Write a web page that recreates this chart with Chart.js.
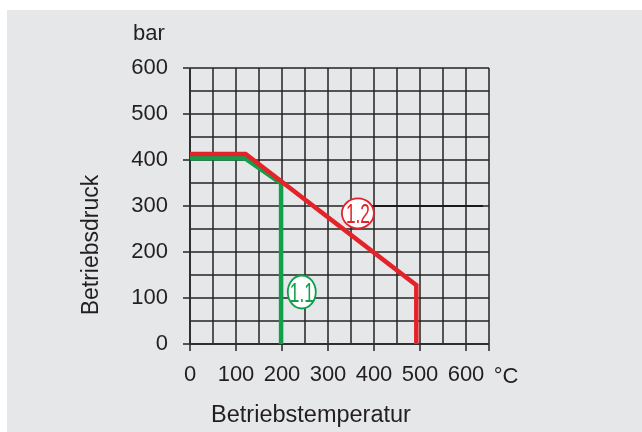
<!DOCTYPE html>
<html><head><meta charset="utf-8">
<script src="https://cdn.jsdelivr.net/npm/chart.js@4/dist/chart.umd.min.js"></script>
<style>html,body{margin:0;padding:0;background:#fff;}canvas{display:block;}</style>
</head><body>
<canvas id="c" width="642" height="432"></canvas>
<script>
// ---- data ----
const tempTicks = [0, 100, 200, 300, 400, 500, 600];
const pressureTicks = [0, 100, 200, 300, 400, 500, 600];
const curve12Temp = [0, 121, 492, 492];
const curve12Pressure = [413, 413, 128, 0];
const curve11Temp = [0, 119, 198, 198];
const curve11Pressure = [404, 404, 349, 0];
const labelNames = ['1.1', '1.2'];
const labelTemp = [243, 365];
const labelPressure = [113, 284];
const leaderTemp = [365, 637];
const leaderPressure = [300, 300];
const xUnit = '°C';
const yUnit = 'bar';
const xTitle = 'Betriebstemperatur';
const yTitle = 'Betriebsdruck';

// ---- styles ----
const RED = '#e42229', GREEN = '#109f4a';
const GRID = 'rgba(35,35,35,0.75)';
const TXT = '#231f20';
const FONT = 'Liberation Sans, Arial, Helvetica, sans-serif';
const labelColors = [GREEN, RED];
const labelRadii = [[14, 16.5], [16, 15]];

const zip = (xs, ys) => xs.map((x, i) => ({x, y: ys[i]}));

const bgPlugin = {
  id: 'bg',
  beforeDraw(chart) {
    const c = chart.ctx;
    c.save();
    c.fillStyle = '#ffffff';
    c.fillRect(0, 0, chart.width, chart.height);
    c.fillStyle = '#e6e7e9';
    c.fillRect(7, 10, chart.width - 7, chart.height - 10);
    c.restore();
  }
};

const annotPlugin = {
  id: 'annot',
  afterDatasetsDraw(chart) {
    const c = chart.ctx, xs = chart.scales.x, ys = chart.scales.y;
    labelNames.forEach((name, i) => {
      const px = xs.getPixelForValue(labelTemp[i]);
      const py = ys.getPixelForValue(labelPressure[i]);
      const [rx, ry] = labelRadii[i];
      c.save();
      c.beginPath();
      c.ellipse(px, py, rx, ry, 0, 0, Math.PI * 2);
      c.fillStyle = '#ffffff';
      c.fill();
      c.lineWidth = 1.8;
      c.strokeStyle = labelColors[i];
      c.stroke();
      c.translate(px, py);
      c.scale(0.64, 1);
      c.font = '27px ' + FONT;
      c.fillStyle = labelColors[i];
      c.textAlign = 'center';
      c.textBaseline = 'alphabetic';
      c.fillText(name, 0, 9.7);
      c.restore();
    });
  },
  afterDraw(chart) {
    const c = chart.ctx, xs = chart.scales.x, ys = chart.scales.y, a = chart.chartArea;
    c.save();
    c.fillStyle = TXT;
    c.font = '22px ' + FONT;
    c.textBaseline = 'alphabetic';
    c.textAlign = 'left';
    c.fillText(yUnit, 133, ys.getPixelForValue(600) - 28);
    c.textAlign = 'center';
    c.fillText(xUnit, xs.getPixelForValue(650) + 17, a.bottom + 39);
    c.font = '23.5px ' + FONT;
    c.fillText(xTitle, 311, a.bottom + 78);
    c.font = '23px ' + FONT;
    c.translate(98, 245);
    c.rotate(-Math.PI / 2);
    c.fillText(yTitle, 0, 0);
    c.restore();
  }
};

const tickCol = (keep) => (ctx) => (ctx.tick && keep(ctx.tick.value)) ? GRID : 'rgba(0,0,0,0)';

new Chart(document.getElementById('c'), {
  type: 'scatter',
  data: {
    datasets: [
      { label: '1.2', data: zip(curve12Temp, curve12Pressure), showLine: true, borderColor: RED,
        borderWidth: 4.5, pointRadius: 0, borderJoinStyle: 'miter', borderCapStyle: 'butt', order: 1 },
      { label: '1.1', data: zip(curve11Temp, curve11Pressure), showLine: true, borderColor: GREEN,
        borderWidth: 4.5, pointRadius: 0, borderJoinStyle: 'miter', borderCapStyle: 'butt', order: 2 },
      { label: 'leader', data: zip(leaderTemp, leaderPressure), showLine: true, borderColor: '#1a1a1a',
        borderWidth: 2, pointRadius: 0, order: 3 }
    ]
  },
  options: {
    responsive: false,
    animation: false,
    events: [],
    layout: { padding: { left: 0, top: 68, right: 153, bottom: 0 } },
    plugins: { legend: { display: false }, tooltip: { enabled: false } },
    scales: {
      x: {
        type: 'linear', min: 0, max: 650,
        afterFit: (s) => { s.height = 88; },
        ticks: {
          stepSize: 50, autoSkip: false, maxRotation: 0, minRotation: 0,
          callback: (v) => tempTicks.includes(v) ? String(v) : '',
          font: { family: FONT, size: 22 }, color: TXT, padding: 11
        },
        grid: { color: GRID, lineWidth: 2, tickLength: 7,
          tickColor: tickCol(v => v % 100 === 0 || v === 650) },
        border: { color: GRID, width: 2 }
      },
      y: {
        type: 'linear', min: 0, max: 600,
        afterFit: (s) => { s.width = 190; },
        ticks: {
          stepSize: 50, autoSkip: false,
          callback: (v) => pressureTicks.includes(v) ? String(v) : '',
          font: { family: FONT, size: 22 }, color: TXT, padding: 15
        },
        grid: { color: GRID, lineWidth: 2, tickLength: 7,
          tickColor: tickCol(v => v % 100 === 0) },
        border: { color: GRID, width: 2 }
      }
    }
  },
  plugins: [bgPlugin, annotPlugin]
});
</script>
</body></html>
